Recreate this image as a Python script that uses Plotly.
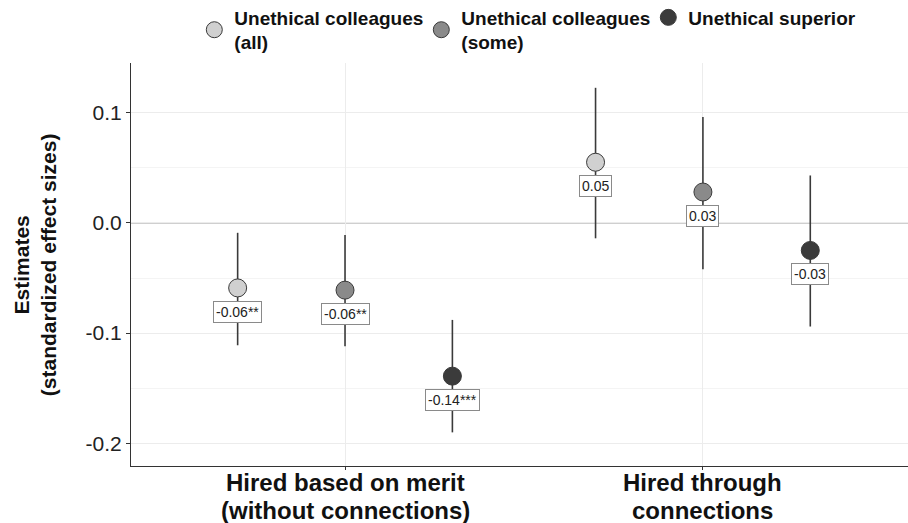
import plotly.graph_objects as go

categories = ["Hired based on merit<br>(without connections)", "Hired through<br>connections"]
series_names = ["Unethical colleagues<br>(all)", "Unethical colleagues<br>(some)", "Unethical superior"]
series_colors = ["#d0d0d0", "#8a8a8a", "#3b3b3b"]

estimates = [
    [-0.059, 0.055],
    [-0.061, 0.028],
    [-0.139, -0.025],
]
ci_low = [
    [-0.111, -0.014],
    [-0.112, -0.042],
    [-0.190, -0.094],
]
ci_high = [
    [-0.009, 0.1225],
    [-0.011, 0.096],
    [-0.088, 0.043],
]
labels = [
    ["-0.06**", "0.05"],
    ["-0.06**", "0.03"],
    ["-0.14***", "-0.03"],
]

cat_pos = [1, 2]
dodge = [-0.3, 0.0, 0.3]
FONT = "Liberation Sans, Arial, sans-serif"

fig = go.Figure()
annotations = []
for i, name in enumerate(series_names):
    xs = [c + dodge[i] for c in cat_pos]
    ys = estimates[i]
    fig.add_trace(go.Scatter(
        x=xs, y=ys, mode="markers", name=name,
        marker=dict(size=18, color=series_colors[i], line=dict(color="#3a3a3a", width=1)),
        error_y=dict(type="data", symmetric=False,
                     array=[h - y for h, y in zip(ci_high[i], ys)],
                     arrayminus=[y - l for l, y in zip(ci_low[i], ys)],
                     color="#3a3a3a", thickness=1.6, width=0),
    ))
    for x, y, t in zip(xs, ys, labels[i]):
        annotations.append(dict(
            x=x, y=y, xref="x", yref="y", text=t, showarrow=False, yshift=-24,
            font=dict(family=FONT, size=14, color="#222"),
            bgcolor="white", bordercolor="#8a8a8a", borderwidth=1, borderpad=2,
        ))

# category labels: each line placed as its own text for tight line spacing
for c, t in zip(cat_pos, categories):
    for k, line in enumerate(t.split("<br>")):
        annotations.append(dict(
            x=c, y=0, xref="x", yref="paper", text="<b>" + line + "</b>", showarrow=False,
            yanchor="middle", xanchor="center", yshift=-16 - 28 * k, align="center",
            font=dict(family=FONT, size=24, color="#111"),
        ))

annotations.append(dict(
    x=-0.124, y=0.5, xref="paper", yref="paper", textangle=-90, showarrow=False,
    xanchor="center", yanchor="middle",
    text="<b>Estimates<br>(standardized effect sizes)</b>", align="center",
    font=dict(family=FONT, size=21, color="#111"),
))

fig.add_hline(y=0, line=dict(color="#808080", width=1), layer="below")

fig.update_layout(
    width=908, height=523,
    margin=dict(l=131, r=0, t=63, b=57, autoexpand=False),
    paper_bgcolor="white", plot_bgcolor="white",
    font=dict(family=FONT),
    showlegend=True,
    legend=dict(orientation="h", x=0.214, xanchor="left", xref="container",
                y=1.16, yanchor="top", yref="paper",
                font=dict(family=FONT, size=19, color="#111", weight="bold"),
                itemsizing="trace", valign="middle",
                entrywidth=182, entrywidthmode="pixels"),
    annotations=annotations,
    xaxis=dict(range=[0.402, 2.573], tickvals=cat_pos, ticktext=["", ""],
               showgrid=True, gridcolor="#ececec", gridwidth=1,
               showline=True, linecolor="#333", linewidth=1, zeroline=False,
               ticks="outside", ticklen=3, tickcolor="#333", fixedrange=True),
    yaxis=dict(range=[-0.2205, 0.145], tickvals=[-0.2, -0.1, 0.0, 0.1],
               ticktext=["-0.2", "-0.1", "0.0", "0.1"],
               tickfont=dict(family=FONT, size=21, color="#222"),
               showgrid=True, gridcolor="#ececec", gridwidth=1,
               minor=dict(tickvals=[-0.15, -0.05, 0.05], showgrid=True, gridcolor="#f4f4f4"),
               showline=True, linecolor="#333", linewidth=1, zeroline=False,
               ticks="outside", ticklen=4, tickcolor="#333"),
)

fig.write_html("out.html", post_script="document.body.style.margin='0';",
               config={"displayModeBar": False})
